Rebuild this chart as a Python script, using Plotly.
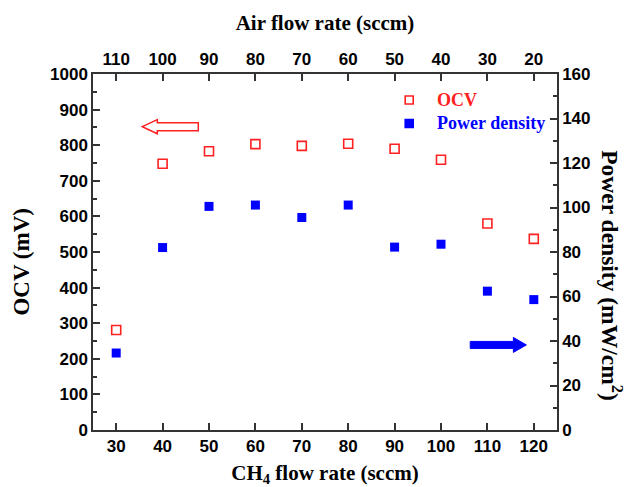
import plotly.graph_objects as go

ch4_flow = [30, 40, 50, 60, 70, 80, 90, 100, 110, 120]
air_flow = [110, 100, 90, 80, 70, 60, 50, 40, 30, 20]
ocv = [281, 748, 783, 803, 798, 804, 790, 759, 580, 537]
power_density = [34.6, 82.0, 100.5, 101.1, 95.5, 101.1, 82.2, 83.5, 62.4, 58.6]

x_ticks = [30, 40, 50, 60, 70, 80, 90, 100, 110, 120]
top_ticks = [110, 100, 90, 80, 70, 60, 50, 40, 30, 20]

RED = "#ff2020"
BLUE = "#0000ff"
tickfont = dict(family="Liberation Sans", size=17, color="black", weight="bold")
titlefont = dict(family="Liberation Serif", size=21, color="black", weight="bold")
serif_bold = "Liberation Serif"

fig = go.Figure()
fig.add_trace(go.Scatter(
    x=ch4_flow, y=ocv, mode="markers", name="OCV",
    marker=dict(symbol="square-open", size=9, color=RED, line=dict(width=1.6)),
    xaxis="x", yaxis="y"))
fig.add_trace(go.Scatter(
    x=ch4_flow, y=power_density, mode="markers", name="Power density",
    marker=dict(symbol="square", size=9, color=BLUE),
    xaxis="x", yaxis="y2"))
fig.add_trace(go.Scatter(
    x=air_flow, y=ocv, mode="markers", marker=dict(opacity=0), showlegend=False,
    hoverinfo="skip", xaxis="x2", yaxis="y"))

axis_common = dict(showline=True, linewidth=1.5, linecolor="#333333", ticks="inside",
                   tickcolor="#333333", tickwidth=1.5, ticklen=7, showgrid=False,
                   zeroline=False, tickfont=tickfont, automargin=False)

fig.update_layout(
    width=628, height=487,
    margin=dict(l=93, r=71, t=74, b=57),
    paper_bgcolor="white", plot_bgcolor="white",
    showlegend=False,
    xaxis=dict(range=[25, 125], tickvals=x_ticks, mirror=False,
               title=dict(text="CH<sub>4</sub> flow rate (sccm)", font=titlefont, standoff=14),
               **axis_common),
    xaxis2=dict(range=[115, 15], tickvals=top_ticks, overlaying="x", side="top",
                title=dict(text="Air flow rate (sccm)", font=titlefont, standoff=14),
                **axis_common),
    yaxis=dict(range=[0, 1000], dtick=100,
               minor=dict(dtick=50, ticks="inside", ticklen=4, tickcolor="#333333", tickwidth=1.5),
               **axis_common),
    yaxis2=dict(range=[0, 160], dtick=20, overlaying="y", side="right",
                minor=dict(dtick=10, ticks="inside", ticklen=4, tickcolor="#333333", tickwidth=1.5),
                **axis_common),
)

# y-axis titles as annotations (right one reads top-to-bottom as in the reference)
fig.add_annotation(text="OCV (mV)", xref="paper", yref="paper", x=-0.153, y=0.473,
                   textangle=-90, showarrow=False, xanchor="center", yanchor="middle",
                   font=dict(family=serif_bold, size=23, color="black", weight="bold"))
fig.add_annotation(text="Power density (mW/cm<sup>2</sup>)", xref="paper", yref="paper",
                   x=1.117, y=0.434, textangle=90, showarrow=False,
                   xanchor="center", yanchor="middle",
                   font=dict(family=serif_bold, size=23.5, color="black", weight="bold"))

# Legend drawn manually
legend_items = [("OCV", RED, "open", 0.927), ("Power density", BLUE, "filled", 0.861)]
for label, col, style, ly in legend_items:
    fig.add_shape(type="rect", xref="paper", yref="paper", xsizemode="pixel", ysizemode="pixel",
                  xanchor=0.6815, yanchor=ly, x0=-4, x1=4, y0=-4, y1=4,
                  line=dict(color=col, width=1.6),
                  fillcolor="white" if style == "open" else col)
    fig.add_annotation(text=label, xref="paper", yref="paper", x=0.7375, y=ly,
                       xanchor="left", yanchor="middle", showarrow=False,
                       font=dict(family=serif_bold, size=18, color=col, weight="bold"))

# Hollow red arrow pointing left (towards OCV axis)
tip_x, head_x, end_x, cy = 0.1063, 0.1386, 0.2269, 0.852
hh, bh = 0.0197, 0.0112
red_path = (f"M {tip_x},{cy} L {head_x},{cy+hh} L {head_x},{cy+bh} L {end_x},{cy+bh} "
            f"L {end_x},{cy-bh} L {head_x},{cy-bh} L {head_x},{cy-hh} Z")
fig.add_shape(type="path", path=red_path, xref="paper", yref="paper",
              line=dict(color=RED, width=1.5), fillcolor="white")

# Filled blue arrow pointing right (towards power density axis)
s_x, hb_x, t_x, cy2 = 0.813, 0.906, 0.934, 0.239
hh2, bh2 = 0.021, 0.0098
blue_path = (f"M {t_x},{cy2} L {hb_x},{cy2+hh2} L {hb_x},{cy2+bh2} L {s_x},{cy2+bh2} "
             f"L {s_x},{cy2-bh2} L {hb_x},{cy2-bh2} L {hb_x},{cy2-hh2} Z")
fig.add_shape(type="path", path=blue_path, xref="paper", yref="paper",
              line=dict(color=BLUE, width=1), fillcolor=BLUE)

fig.write_html("out.html")
